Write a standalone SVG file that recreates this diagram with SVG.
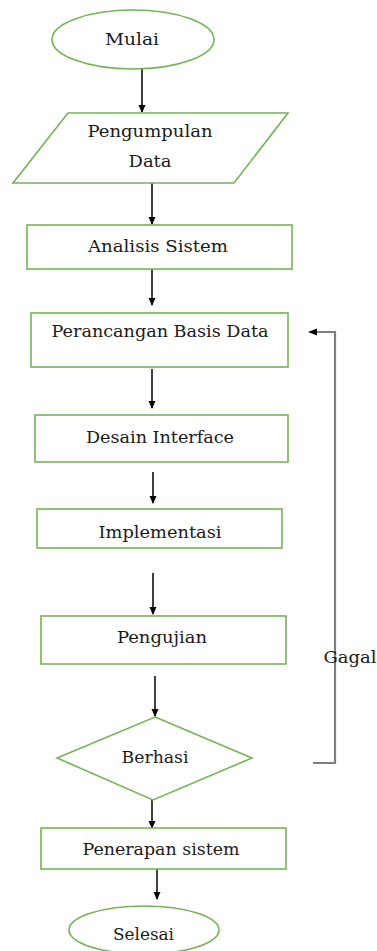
<svg xmlns="http://www.w3.org/2000/svg" width="377" height="951" viewBox="0 0 377 951">
<style>
.n{fill:#fff;stroke:#77b255;stroke-width:1.6}
.t{font-family:"DejaVu Serif","Liberation Serif",serif;font-size:16px;fill:#1a1a1a;text-anchor:middle}
.c{stroke:#000;stroke-width:1.5;fill:none}
.g{stroke:#7f7f7f;stroke-width:2.2;fill:none}
</style>
<defs>
<marker id="ah" markerWidth="8" markerHeight="8" refX="7" refY="4" orient="auto" markerUnits="userSpaceOnUse">
<path d="M0,0.5 L8,4 L0,7.5 Z" fill="#000"/>
</marker>
</defs>
<rect width="377" height="951" fill="#fff"/>
<g id="connectors">
<line class="c" x1="142" y1="68" x2="142" y2="112" marker-end="url(#ah)"/>
<line class="c" x1="152" y1="173" x2="152" y2="224" marker-end="url(#ah)"/>
<line class="c" x1="152" y1="265" x2="152" y2="305" marker-end="url(#ah)"/>
<line class="c" x1="152" y1="369" x2="152" y2="408" marker-end="url(#ah)"/>
<line class="c" x1="153" y1="472" x2="153" y2="503" marker-end="url(#ah)"/>
<line class="c" x1="153" y1="573" x2="153" y2="614" marker-end="url(#ah)"/>
<line class="c" x1="155" y1="676" x2="155" y2="716" marker-end="url(#ah)"/>
<line class="c" x1="152" y1="800" x2="152" y2="828" marker-end="url(#ah)"/>
<line class="c" x1="157" y1="866" x2="157" y2="899" marker-end="url(#ah)"/>
<polyline class="g" points="313,763 335,763 335,332 316,332"/>
<path d="M308,332 L317,328.5 L317,335.5 Z" fill="#000"/>
</g>
<g id="mulai">
<ellipse class="n" cx="133" cy="39.5" rx="81" ry="29.5"/>
<text class="t" x="132" y="45" textLength="54" lengthAdjust="spacingAndGlyphs">Mulai</text>
</g>
<g id="pengumpulan">
<polygon class="n" points="68,113 288,113 234,183 13,183"/>
<text class="t" x="150" y="137" textLength="125" lengthAdjust="spacingAndGlyphs">Pengumpulan</text>
<text class="t" x="150" y="167" textLength="43" lengthAdjust="spacingAndGlyphs">Data</text>
</g>
<g id="analisis">
<rect class="n" x="27" y="225" width="265" height="44"/>
<text class="t" x="158" y="252" textLength="140" lengthAdjust="spacingAndGlyphs">Analisis Sistem</text>
</g>
<g id="perancangan">
<rect class="n" x="31" y="313" width="257" height="54"/>
<text class="t" x="160" y="337" textLength="217" lengthAdjust="spacingAndGlyphs">Perancangan Basis Data</text>
</g>
<g id="desain">
<rect class="n" x="35" y="415" width="253" height="47"/>
<text class="t" x="160" y="443" textLength="148" lengthAdjust="spacingAndGlyphs">Desain Interface</text>
</g>
<g id="implementasi">
<rect class="n" x="37" y="509" width="245" height="39"/>
<text class="t" x="160" y="538" textLength="123" lengthAdjust="spacingAndGlyphs">Implementasi</text>
</g>
<g id="pengujian">
<rect class="n" x="41" y="616" width="245" height="48"/>
<text class="t" x="162" y="643" textLength="90" lengthAdjust="spacingAndGlyphs">Pengujian</text>
</g>
<g id="berhasi">
<polygon class="n" points="155,717 252,758 153,800 57,758"/>
<text class="t" x="155" y="763" textLength="67" lengthAdjust="spacingAndGlyphs">Berhasi</text>
</g>
<g id="penerapan">
<rect class="n" x="41" y="828" width="245" height="41"/>
<text class="t" x="161" y="855" textLength="157" lengthAdjust="spacingAndGlyphs">Penerapan sistem</text>
</g>
<g id="selesai">
<ellipse class="n" cx="144" cy="930" rx="75" ry="24"/>
<text class="t" x="143.5" y="940" textLength="61" lengthAdjust="spacingAndGlyphs">Selesai</text>
</g>
<g id="gagal-label">
<text class="t" x="350" y="663" textLength="53" lengthAdjust="spacingAndGlyphs">Gagal</text>
</g>
</svg>
